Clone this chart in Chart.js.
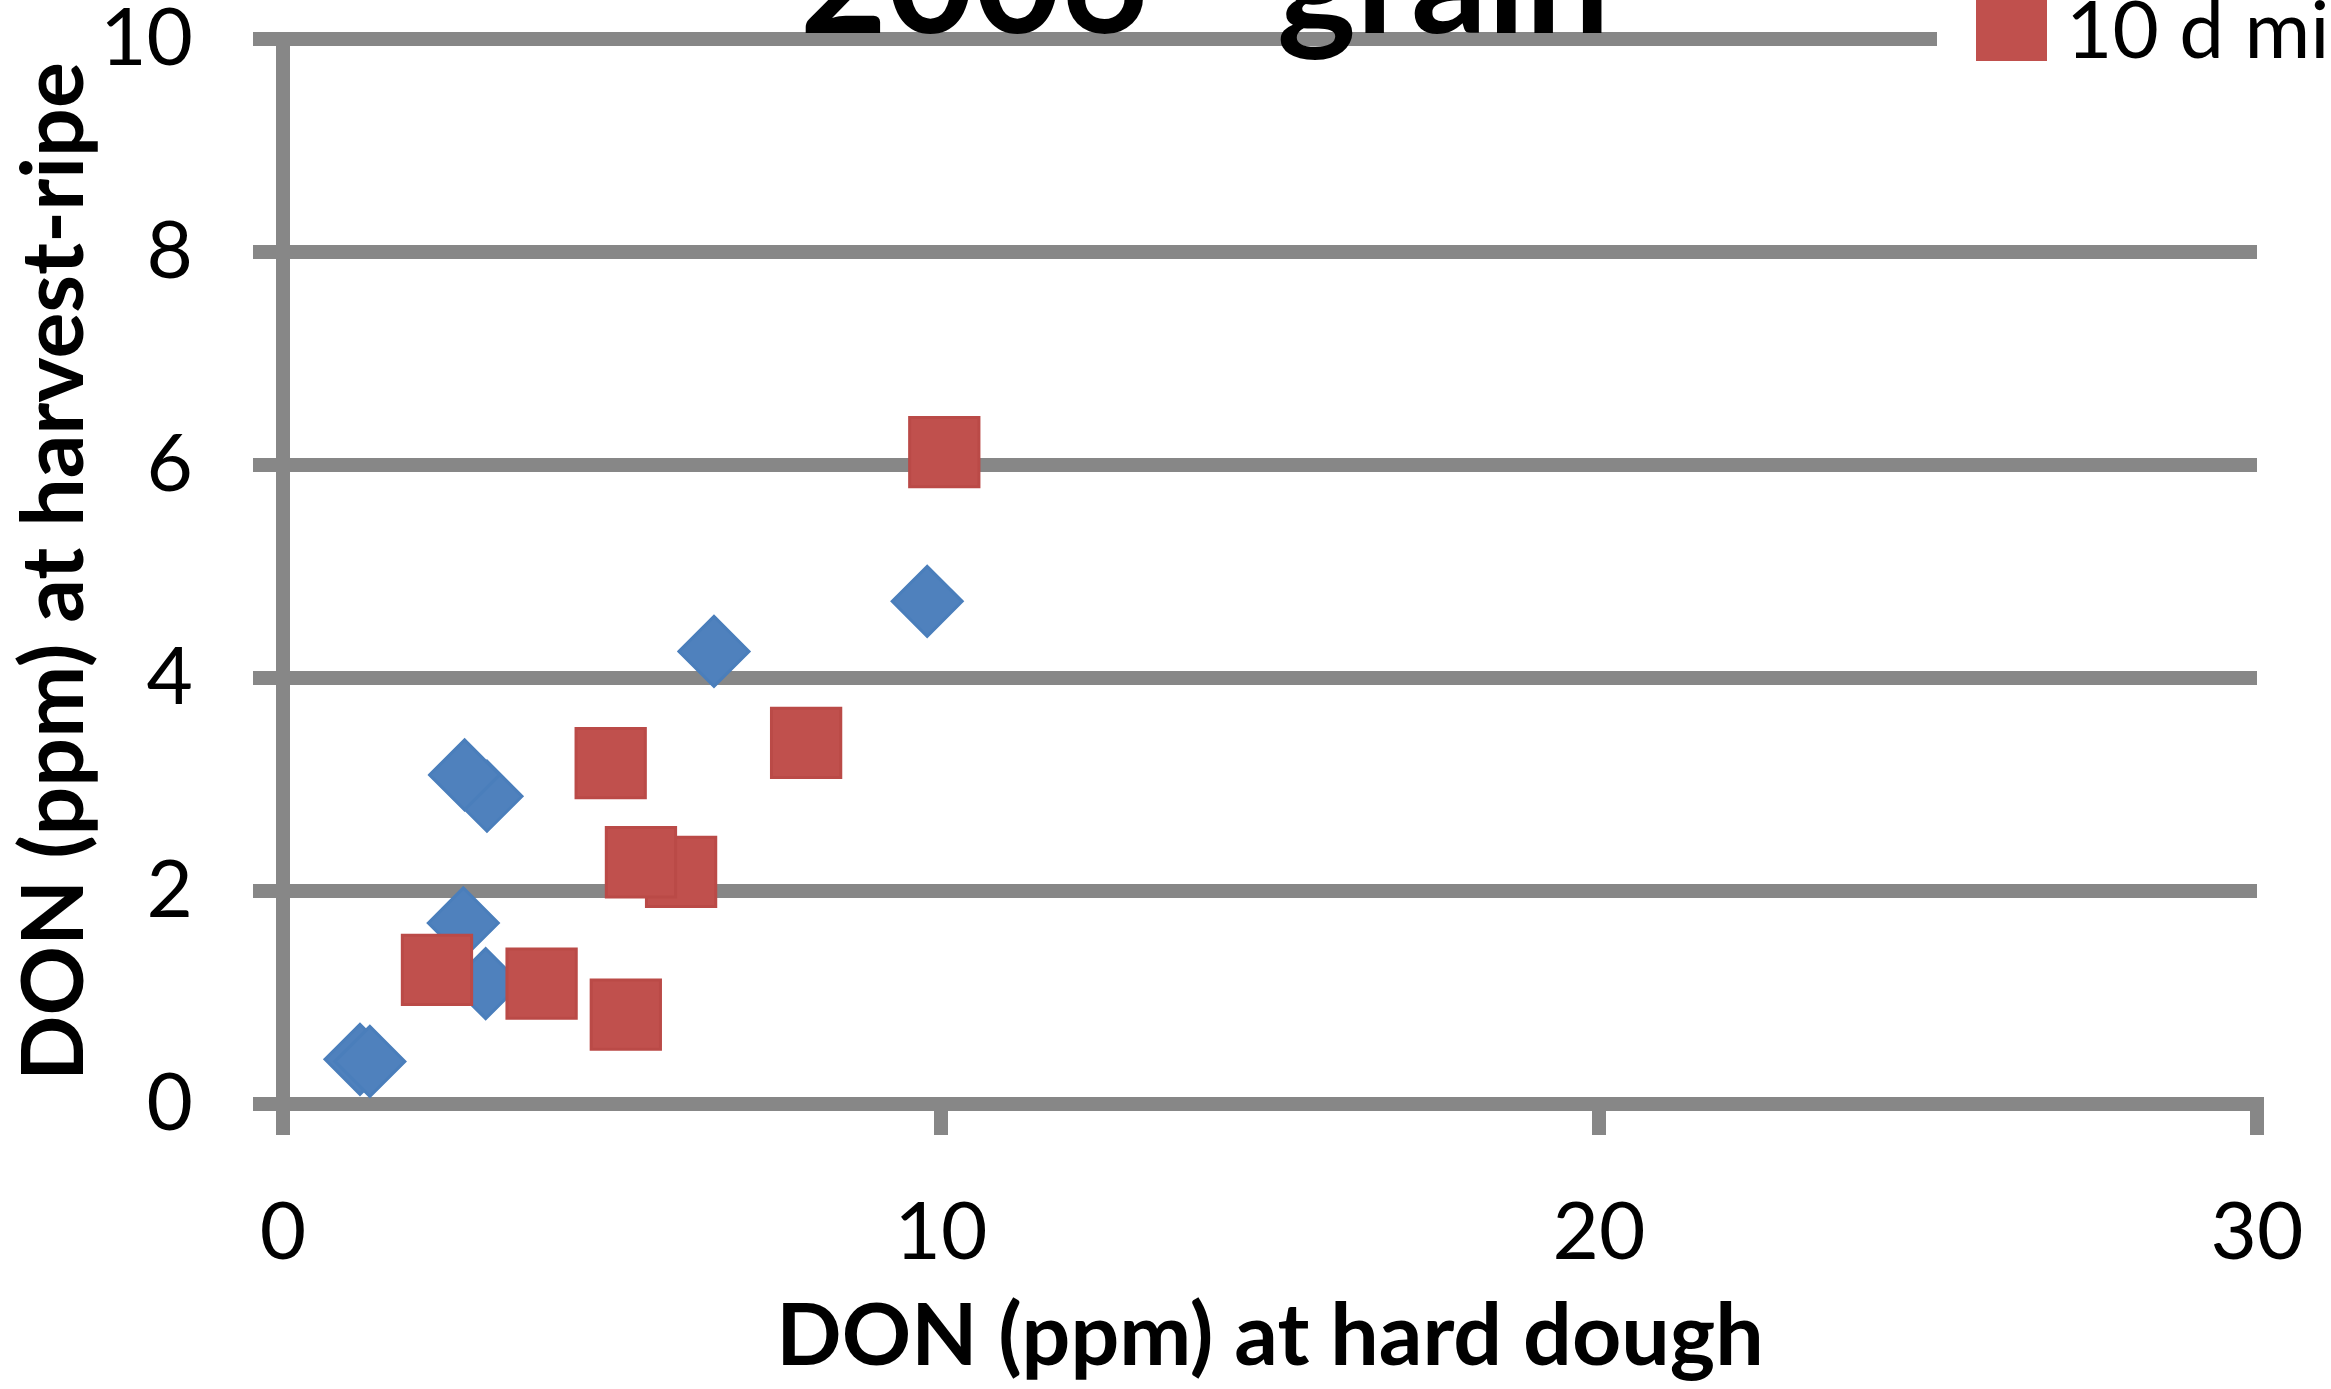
<!DOCTYPE html>
<html>
<head>
<meta charset="utf-8">
<title>2006 - grain</title>
<script src="https://cdn.jsdelivr.net/npm/chart.js"></script>
<style>
  html, body { margin: 0; padding: 0; background: #fff; }
  #wrap { width: 2331px; height: 1389px; position: relative; }
</style>
</head>
<body>
<div id="wrap"><canvas id="chart"></canvas></div>
<script>
// DON values (ppm)
const chartTitle = "2006 - grain";
const seriesNames = ["0 d mist", "10 d mist"];

const noMistHardDough = [1.17, 1.32, 3.10, 2.76, 2.74, 3.08, 6.55, 9.79];
const noMistHarvest   = [0.42, 0.40, 2.89, 3.09, 1.70, 1.13, 4.25, 4.72];

const mistHardDough = [10.05, 4.98, 7.95, 6.05, 5.44, 2.34, 3.93, 5.21];
const mistHarvest   = [6.12, 3.20, 3.39, 2.18, 2.27, 1.26, 1.13, 0.84];

const xTicks = [0, 10, 20, 30];
const yTicks = [0, 2, 4, 6, 8, 10];

const BLUE = "#4F81BD";
const RED = "#C0504D";
const GRID = "#878787";

function toPoints(xs, ys) {
  return xs.map((x, i) => ({ x: x, y: ys[i] }));
}

// title + legend are drawn by hand since both are cut by the top edge
const topDecor = {
  id: "topDecor",
  afterDraw(chart) {
    const ctx = chart.ctx;
    ctx.save();
    ctx.fillStyle = "#000";
    ctx.font = "bold 150px Lato";
    ctx.textAlign = "center";
    ctx.textBaseline = "alphabetic";
    ctx.fillText(chartTitle, 1205, 33);

    // legend box
    ctx.fillStyle = "#fff";
    ctx.fillRect(1937, 0, 2331 - 1937, 70);
    const colors = [BLUE, RED];
    const rowGap = 100;
    seriesNames.forEach((name, i) => {
      const cy = 25 - (seriesNames.length - 1 - i) * rowGap;
      ctx.fillStyle = colors[i];
      ctx.fillRect(1976, cy - 35, 71, 71);
      ctx.fillStyle = "#000";
      ctx.font = "80px Lato";
      ctx.textAlign = "left";
      ctx.fillText(name, 2066, cy + 33);
    });
    ctx.restore();
  }
};

new Chart(document.getElementById("chart"), {
  type: "scatter",
  data: {
    datasets: [
      {
        label: seriesNames[0],
        data: toPoints(noMistHardDough, noMistHarvest),
        pointStyle: "rectRot",
        pointRadius: 35,
        pointBorderWidth: 3,
        backgroundColor: BLUE,
        borderColor: "#4A7EBB",
        order: 1
      },
      {
        label: seriesNames[1],
        data: toPoints(mistHardDough, mistHarvest),
        pointStyle: "rect",
        pointRadius: 49,
        pointBorderWidth: 3,
        backgroundColor: RED,
        borderColor: "#BA4A47",
        order: 0
      }
    ]
  },
  options: {
    responsive: true,
    maintainAspectRatio: false,
    animation: false,
    layout: { autoPadding: false, padding: { top: 39, right: 74, bottom: 0, left: 0 } },
    plugins: {
      legend: { display: false },
      title: { display: false },
      tooltip: { enabled: false }
    },
    scales: {
      x: {
        type: "linear",
        min: 0,
        max: 30,
        afterBuildTicks(scale) { scale.ticks = xTicks.map(v => ({ value: v })); },
        afterFit(scale) {
          scale.height = 285;
          scale.paddingLeft = 0;
          scale.paddingRight = 0;
        },
        grid: {
          drawOnChartArea: false,
          drawTicks: true,
          tickLength: 31,
          lineWidth: 14,
          color: GRID
        },
        border: { display: true, width: 14, color: GRID },
        ticks: {
          padding: 50,
          color: "#000",
          font: { family: "Lato", size: 80 }
        },
        title: {
          display: true,
          text: "DON (ppm) at hard dough",
          color: "#000",
          font: { family: "Lato", size: 86, weight: "bold" },
          padding: { top: 0, bottom: 0 }
        }
      },
      y: {
        type: "linear",
        min: 0,
        max: 10,
        afterBuildTicks(scale) { scale.ticks = yTicks.map(v => ({ value: v })); },
        afterFit(scale) {
          scale.width = 283;
          scale.paddingTop = 0;
          scale.paddingBottom = 0;
        },
        grid: {
          drawTicks: true,
          tickLength: 30,
          lineWidth: 14,
          color: GRID
        },
        border: { display: true, width: 14, color: GRID },
        ticks: {
          padding: 60,
          color: "#000",
          font: { family: "Lato", size: 80 }
        },
        title: {
          display: true,
          text: "DON (ppm) at harvest-ripe",
          color: "#000",
          font: { family: "Lato", size: 86, weight: "bold" },
          padding: { top: 4, bottom: 0 }
        }
      }
    }
  },
  plugins: [topDecor]
});
</script>
</body>
</html>
